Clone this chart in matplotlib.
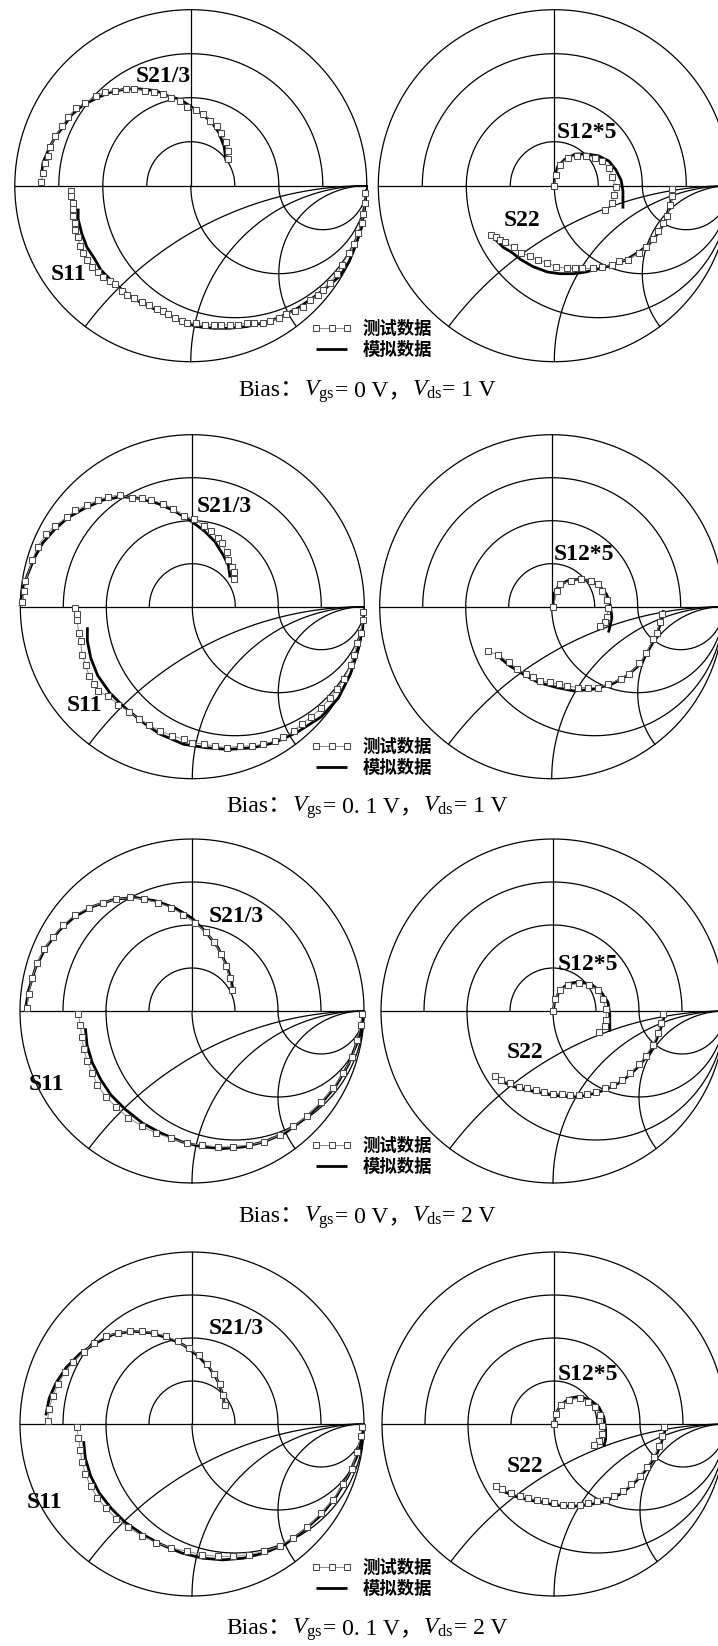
import numpy as np
import matplotlib
matplotlib.use('Agg')
import matplotlib.pyplot as plt
from matplotlib.font_manager import FontProperties
from matplotlib.offsetbox import TextArea, HPacker, AnchoredOffsetbox

W, H = 718, 1646

# ---- chart placement (pixels) ----
row_cy = [185.7, 606.7, 1011, 1424]
left_cx = [190.8, 192.3, 192, 192]
right_cx = [554.3, 551.7, 553, 554]
row_R = [176, 172, 172, 172]

vgs_vals = ['0', '0. 1', '0', '0. 1']
vds_vals = ['1', '1', '2', '2']
caption_y = [392, 808, 1218, 1630]
legend_labels = ['测试数据', '模拟数据']

# ---- data (reflection-plane coordinates, re/im) ----
# row 1 : Vgs=0, Vds=1
r1_s21_meas = [(-0.85, 0.02), (-0.84, 0.07), (-0.83, 0.13), (-0.81, 0.17), (-0.80, 0.22), (-0.77, 0.28),
               (-0.73, 0.34), (-0.70, 0.39), (-0.65, 0.44), (-0.60, 0.47), (-0.54, 0.51), (-0.49, 0.53),
               (-0.43, 0.54), (-0.37, 0.55), (-0.32, 0.55), (-0.26, 0.54), (-0.21, 0.53), (-0.16, 0.52),
               (-0.11, 0.50), (-0.06, 0.48), (-0.02, 0.45), (0.03, 0.43), (0.07, 0.41), (0.11, 0.37),
               (0.15, 0.34), (0.17, 0.30), (0.20, 0.25), (0.21, 0.20), (0.21, 0.15)]
r1_s21_sim = [(-0.85, 0.05), (-0.84, 0.13), (-0.81, 0.20), (-0.77, 0.28), (-0.72, 0.34), (-0.68, 0.40),
              (-0.61, 0.46), (-0.53, 0.50), (-0.46, 0.53), (-0.37, 0.55), (-0.29, 0.55), (-0.20, 0.54),
              (-0.13, 0.51), (-0.06, 0.49), (0.00, 0.45), (0.06, 0.41), (0.12, 0.36), (0.16, 0.30),
              (0.19, 0.22), (0.20, 0.14)]
r1_s11_meas = [(-0.68, -0.03), (-0.68, -0.06), (-0.67, -0.10), (-0.67, -0.13), (-0.67, -0.17), (-0.66, -0.21),
               (-0.66, -0.25), (-0.64, -0.29), (-0.63, -0.34), (-0.61, -0.38), (-0.59, -0.42), (-0.56, -0.46),
               (-0.53, -0.49), (-0.50, -0.52), (-0.46, -0.54), (-0.43, -0.56), (-0.39, -0.60), (-0.36, -0.62),
               (-0.32, -0.64), (-0.28, -0.66), (-0.24, -0.68), (-0.19, -0.70), (-0.16, -0.71), (-0.13, -0.73),
               (-0.09, -0.75), (-0.05, -0.77), (-0.02, -0.78), (0.03, -0.78), (0.08, -0.79), (0.13, -0.79),
               (0.17, -0.79), (0.22, -0.79), (0.27, -0.79), (0.32, -0.78), (0.36, -0.78), (0.41, -0.78),
               (0.45, -0.77), (0.50, -0.75), (0.54, -0.73), (0.59, -0.71), (0.64, -0.69), (0.68, -0.65),
               (0.72, -0.62), (0.75, -0.59), (0.79, -0.55), (0.83, -0.50), (0.86, -0.45), (0.90, -0.38),
               (0.93, -0.33), (0.95, -0.27), (0.97, -0.21), (0.98, -0.16), (0.99, -0.10), (0.99, -0.04)]
r1_s11_sim = [(-0.64, -0.13), (-0.64, -0.19), (-0.62, -0.27), (-0.59, -0.35), (-0.55, -0.41), (-0.51, -0.48),
              (-0.45, -0.54), (-0.38, -0.60), (-0.31, -0.65), (-0.23, -0.69), (-0.14, -0.73), (-0.05, -0.77),
              (0.03, -0.80), (0.13, -0.81), (0.22, -0.81), (0.32, -0.80), (0.41, -0.78), (0.50, -0.75),
              (0.60, -0.70), (0.69, -0.64), (0.77, -0.58), (0.85, -0.51), (0.90, -0.43), (0.93, -0.35),
              (0.97, -0.24), (0.98, -0.16), (0.995, -0.06), (0.998, -0.02)]
r1_s12_meas = [(0.00, 0.00), (0.01, 0.06), (0.03, 0.12), (0.08, 0.16), (0.13, 0.17), (0.18, 0.17),
               (0.23, 0.16), (0.27, 0.14), (0.31, 0.10), (0.33, 0.05), (0.35, -0.01), (0.34, -0.05),
               (0.33, -0.10), (0.29, -0.14)]
r1_s12_sim = [(0.00, -0.01), (0.00, 0.05), (0.02, 0.11), (0.06, 0.15), (0.12, 0.18), (0.18, 0.18),
              (0.25, 0.17), (0.31, 0.14), (0.35, 0.09), (0.38, 0.03), (0.39, -0.03), (0.39, -0.09),
              (0.39, -0.13)]
r1_s22_meas = [(-0.36, -0.28), (-0.33, -0.29), (-0.31, -0.31), (-0.28, -0.32), (-0.23, -0.35), (-0.19, -0.38),
               (-0.14, -0.40), (-0.09, -0.42), (-0.04, -0.44), (0.01, -0.46), (0.07, -0.47), (0.12, -0.47),
               (0.16, -0.47), (0.22, -0.47), (0.27, -0.46), (0.33, -0.45), (0.37, -0.43), (0.42, -0.42),
               (0.48, -0.38), (0.52, -0.35), (0.56, -0.30), (0.59, -0.26), (0.62, -0.21), (0.64, -0.17),
               (0.66, -0.11), (0.67, -0.06), (0.67, -0.02)]
r1_s22_sim = [(-0.33, -0.31), (-0.29, -0.35), (-0.24, -0.38), (-0.19, -0.42), (-0.12, -0.46), (-0.04, -0.49),
              (0.03, -0.50), (0.11, -0.50), (0.18, -0.49), (0.26, -0.47), (0.33, -0.45), (0.41, -0.42),
              (0.49, -0.37), (0.54, -0.33), (0.59, -0.27), (0.63, -0.20), (0.65, -0.13), (0.67, -0.06),
              (0.67, -0.01)]

# row 2 : Vgs=0.1, Vds=1
r2_s21_meas = [(-0.99, 0.03), (-0.98, 0.09), (-0.97, 0.15), (-0.93, 0.27), (-0.90, 0.35), (-0.85, 0.42),
               (-0.80, 0.47), (-0.73, 0.52), (-0.68, 0.56), (-0.61, 0.59), (-0.55, 0.62), (-0.49, 0.64),
               (-0.42, 0.65), (-0.35, 0.63), (-0.29, 0.63), (-0.24, 0.62), (-0.17, 0.60), (-0.11, 0.57),
               (-0.05, 0.53), (0.01, 0.51), (0.07, 0.47), (0.11, 0.44), (0.15, 0.40), (0.17, 0.37),
               (0.20, 0.32), (0.21, 0.27), (0.23, 0.23), (0.24, 0.20), (0.24, 0.16)]
r2_s21_sim = [(-0.99, 0.01), (-0.99, 0.09), (-0.96, 0.18), (-0.92, 0.28), (-0.87, 0.37), (-0.80, 0.45),
              (-0.72, 0.52), (-0.63, 0.57), (-0.52, 0.62), (-0.41, 0.64), (-0.31, 0.63), (-0.20, 0.60),
              (-0.11, 0.56), (-0.01, 0.50), (0.07, 0.44), (0.13, 0.38), (0.18, 0.30), (0.21, 0.24),
              (0.22, 0.17)]
r2_s11_meas = [(-0.68, -0.01), (-0.67, -0.04), (-0.67, -0.08), (-0.66, -0.15), (-0.65, -0.20), (-0.64, -0.28),
               (-0.62, -0.34), (-0.60, -0.40), (-0.57, -0.45), (-0.55, -0.49), (-0.49, -0.52), (-0.43, -0.57),
               (-0.37, -0.61), (-0.31, -0.65), (-0.25, -0.69), (-0.19, -0.72), (-0.12, -0.75), (-0.05, -0.77),
               (0.00, -0.79), (0.07, -0.80), (0.13, -0.81), (0.20, -0.82), (0.28, -0.81), (0.35, -0.81),
               (0.41, -0.80), (0.48, -0.78), (0.53, -0.76), (0.59, -0.72), (0.64, -0.68), (0.69, -0.64),
               (0.75, -0.59), (0.80, -0.53), (0.84, -0.48), (0.88, -0.42), (0.92, -0.34), (0.94, -0.28),
               (0.96, -0.21), (0.98, -0.15), (0.99, -0.08), (0.995, -0.03)]
r2_s11_sim = [(-0.61, -0.12), (-0.61, -0.20), (-0.59, -0.30), (-0.55, -0.40), (-0.48, -0.50), (-0.40, -0.58),
              (-0.29, -0.67), (-0.19, -0.74), (-0.05, -0.80), (0.08, -0.82), (0.21, -0.83), (0.35, -0.82),
              (0.48, -0.79), (0.61, -0.73), (0.75, -0.64), (0.85, -0.53), (0.92, -0.39), (0.96, -0.26),
              (0.99, -0.13), (0.998, -0.02)]
r2_s12_meas = [(0.01, 0.00), (0.03, 0.09), (0.05, 0.13), (0.11, 0.15), (0.17, 0.16), (0.23, 0.15),
               (0.27, 0.13), (0.29, 0.09), (0.32, 0.04), (0.33, -0.01), (0.32, -0.06), (0.31, -0.09),
               (0.28, -0.11)]
r2_s12_sim = [(0.01, -0.01), (0.01, 0.07), (0.04, 0.12), (0.09, 0.15), (0.16, 0.16), (0.23, 0.15),
              (0.28, 0.12), (0.32, 0.07), (0.34, 0.01), (0.35, -0.06), (0.34, -0.11), (0.33, -0.15)]
r2_s22_meas = [(-0.37, -0.26), (-0.31, -0.28), (-0.25, -0.32), (-0.20, -0.36), (-0.15, -0.39), (-0.11, -0.41),
               (-0.07, -0.43), (-0.01, -0.44), (0.04, -0.45), (0.09, -0.46), (0.15, -0.47), (0.21, -0.47),
               (0.27, -0.47), (0.33, -0.45), (0.40, -0.42), (0.45, -0.39), (0.51, -0.33), (0.55, -0.27),
               (0.59, -0.19), (0.61, -0.15), (0.63, -0.09), (0.64, -0.04)]
r2_s22_sim = [(-0.32, -0.28), (-0.25, -0.34), (-0.17, -0.39), (-0.08, -0.44), (0.03, -0.47), (0.13, -0.49),
              (0.24, -0.48), (0.35, -0.45), (0.44, -0.40), (0.52, -0.33), (0.57, -0.24), (0.61, -0.16),
              (0.64, -0.08), (0.65, -0.02)]

# row 3 : Vgs=0, Vds=2
r3_s21_meas = [(-0.96, 0.02), (-0.95, 0.10), (-0.93, 0.19), (-0.90, 0.28), (-0.86, 0.36), (-0.81, 0.43),
               (-0.75, 0.50), (-0.68, 0.56), (-0.60, 0.60), (-0.52, 0.63), (-0.44, 0.65), (-0.36, 0.66),
               (-0.28, 0.65), (-0.20, 0.63), (-0.12, 0.60), (-0.05, 0.56), (0.02, 0.51), (0.08, 0.46),
               (0.13, 0.40), (0.17, 0.33), (0.20, 0.26), (0.22, 0.19), (0.23, 0.12)]
r3_s21_sim = [(-0.97, 0.00), (-0.95, 0.12), (-0.91, 0.25), (-0.85, 0.37), (-0.77, 0.47), (-0.68, 0.55),
              (-0.57, 0.61), (-0.45, 0.65), (-0.33, 0.66), (-0.21, 0.64), (-0.10, 0.60), (0.00, 0.54),
              (0.08, 0.46), (0.15, 0.37), (0.20, 0.27), (0.23, 0.17), (0.24, 0.11)]
r3_s11_meas = [(-0.66, -0.02), (-0.65, -0.08), (-0.64, -0.15), (-0.63, -0.22), (-0.61, -0.29), (-0.58, -0.36),
               (-0.55, -0.43), (-0.50, -0.50), (-0.44, -0.56), (-0.37, -0.62), (-0.29, -0.67), (-0.21, -0.71),
               (-0.12, -0.74), (-0.03, -0.77), (0.06, -0.78), (0.15, -0.79), (0.24, -0.79), (0.33, -0.78),
               (0.42, -0.76), (0.51, -0.72), (0.59, -0.67), (0.67, -0.61), (0.75, -0.53), (0.82, -0.45),
               (0.88, -0.36), (0.93, -0.27), (0.96, -0.17), (0.98, -0.08), (0.99, -0.02)]
r3_s11_sim = [(-0.62, -0.10), (-0.61, -0.20), (-0.58, -0.30), (-0.53, -0.40), (-0.47, -0.49), (-0.39, -0.57),
              (-0.29, -0.65), (-0.18, -0.71), (-0.06, -0.76), (0.06, -0.79), (0.18, -0.80), (0.30, -0.79),
              (0.42, -0.76), (0.54, -0.71), (0.65, -0.63), (0.75, -0.54), (0.84, -0.43), (0.91, -0.31),
              (0.96, -0.18), (0.99, -0.06), (0.995, -0.01)]
r3_s12_meas = [(0.00, 0.00), (0.01, 0.07), (0.04, 0.12), (0.09, 0.15), (0.15, 0.16), (0.21, 0.15),
               (0.26, 0.12), (0.29, 0.07), (0.31, 0.01), (0.31, -0.05), (0.30, -0.09), (0.27, -0.12)]
r3_s12_sim = [(0.00, -0.01), (0.01, 0.06), (0.04, 0.12), (0.09, 0.16), (0.16, 0.17), (0.23, 0.15),
              (0.28, 0.11), (0.32, 0.05), (0.33, -0.02), (0.33, -0.08), (0.33, -0.12)]
r3_s22_meas = [(-0.34, -0.38), (-0.30, -0.40), (-0.25, -0.42), (-0.20, -0.44), (-0.15, -0.45), (-0.10, -0.46),
               (-0.05, -0.47), (0.00, -0.48), (0.05, -0.48), (0.10, -0.49), (0.15, -0.49), (0.20, -0.48),
               (0.25, -0.47), (0.30, -0.45), (0.35, -0.43), (0.40, -0.40), (0.45, -0.36), (0.50, -0.31),
               (0.54, -0.26), (0.58, -0.20), (0.61, -0.13), (0.63, -0.07), (0.64, -0.02)]
r3_s22_sim = [(-0.30, -0.41), (-0.20, -0.45), (-0.10, -0.47), (0.00, -0.49), (0.10, -0.50), (0.20, -0.49),
              (0.30, -0.46), (0.40, -0.41), (0.48, -0.34), (0.55, -0.26), (0.60, -0.17), (0.63, -0.09),
              (0.65, -0.02)]

# row 4 : Vgs=0.1, Vds=2
r4_s21_meas = [(-0.84, 0.02), (-0.83, 0.09), (-0.81, 0.16), (-0.78, 0.23), (-0.74, 0.30), (-0.69, 0.36),
               (-0.63, 0.42), (-0.57, 0.47), (-0.50, 0.51), (-0.43, 0.53), (-0.36, 0.54), (-0.29, 0.54),
               (-0.22, 0.53), (-0.15, 0.51), (-0.08, 0.48), (-0.02, 0.44), (0.04, 0.40), (0.09, 0.35),
               (0.13, 0.29), (0.16, 0.23), (0.18, 0.17), (0.19, 0.11)]
r4_s21_sim = [(-0.85, 0.05), (-0.83, 0.15), (-0.79, 0.24), (-0.73, 0.33), (-0.65, 0.41), (-0.56, 0.47),
              (-0.46, 0.52), (-0.35, 0.54), (-0.24, 0.53), (-0.14, 0.50), (-0.05, 0.46), (0.03, 0.40),
              (0.10, 0.33), (0.15, 0.25), (0.18, 0.17), (0.19, 0.10)]
r4_s11_meas = [(-0.67, -0.02), (-0.66, -0.08), (-0.65, -0.15), (-0.64, -0.22), (-0.62, -0.29), (-0.59, -0.36),
               (-0.55, -0.43), (-0.50, -0.49), (-0.44, -0.55), (-0.37, -0.60), (-0.29, -0.65), (-0.21, -0.69),
               (-0.12, -0.72), (-0.03, -0.74), (0.06, -0.76), (0.15, -0.77), (0.24, -0.77), (0.33, -0.76),
               (0.42, -0.74), (0.51, -0.71), (0.59, -0.66), (0.67, -0.60), (0.75, -0.52), (0.82, -0.44),
               (0.88, -0.35), (0.93, -0.26), (0.96, -0.16), (0.98, -0.07), (0.99, -0.02)]
r4_s11_sim = [(-0.63, -0.10), (-0.62, -0.20), (-0.59, -0.30), (-0.54, -0.40), (-0.47, -0.49), (-0.39, -0.57),
              (-0.29, -0.64), (-0.18, -0.70), (-0.06, -0.75), (0.06, -0.78), (0.18, -0.79), (0.30, -0.78),
              (0.42, -0.75), (0.54, -0.70), (0.65, -0.62), (0.75, -0.53), (0.84, -0.42), (0.91, -0.30),
              (0.96, -0.18), (0.99, -0.06), (0.995, -0.01)]
r4_s12_meas = [(0.00, 0.00), (0.01, 0.06), (0.04, 0.11), (0.09, 0.14), (0.15, 0.15), (0.20, 0.13),
               (0.24, 0.10), (0.27, 0.05), (0.28, -0.01), (0.28, -0.06), (0.26, -0.10), (0.23, -0.12)]
r4_s12_sim = [(0.00, -0.01), (0.01, 0.06), (0.04, 0.11), (0.09, 0.15), (0.15, 0.16), (0.21, 0.14),
              (0.26, 0.10), (0.29, 0.04), (0.30, -0.03), (0.30, -0.09), (0.29, -0.13)]
r4_s22_meas = [(-0.34, -0.36), (-0.30, -0.38), (-0.25, -0.40), (-0.20, -0.42), (-0.15, -0.43), (-0.10, -0.44),
               (-0.05, -0.45), (0.00, -0.46), (0.05, -0.47), (0.10, -0.47), (0.15, -0.47), (0.20, -0.46),
               (0.25, -0.45), (0.30, -0.44), (0.35, -0.42), (0.40, -0.39), (0.45, -0.35), (0.50, -0.30),
               (0.54, -0.25), (0.58, -0.19), (0.61, -0.13), (0.63, -0.07), (0.64, -0.02)]
r4_s22_sim = [(-0.30, -0.39), (-0.20, -0.43), (-0.10, -0.45), (0.00, -0.47), (0.10, -0.48), (0.20, -0.47),
              (0.30, -0.45), (0.40, -0.40), (0.48, -0.33), (0.55, -0.25), (0.60, -0.17), (0.63, -0.09),
              (0.65, -0.02)]

left_meas = [(r1_s21_meas, r1_s11_meas), (r2_s21_meas, r2_s11_meas),
             (r3_s21_meas, r3_s11_meas), (r4_s21_meas, r4_s11_meas)]
left_sim = [(r1_s21_sim, r1_s11_sim), (r2_s21_sim, r2_s11_sim),
            (r3_s21_sim, r3_s11_sim), (r4_s21_sim, r4_s11_sim)]
right_meas = [(r1_s12_meas, r1_s22_meas), (r2_s12_meas, r2_s22_meas),
              (r3_s12_meas, r3_s22_meas), (r4_s12_meas, r4_s22_meas)]
right_sim = [(r1_s12_sim, r1_s22_sim), (r2_s12_sim, r2_s22_sim),
             (r3_s12_sim, r3_s22_sim), (r4_s12_sim, r4_s22_sim)]

# label positions in pixels
s21_pos = [(163, 76), (224, 507), (236, 916), (236, 1328)]
s11_pos = [(68, 275), (85, 705), (47, 1084), (45, 1503)]
s12_pos = [(587, 132), (584, 555), (588, 964), (588, 1375)]
s22_pos = [(522, 220), None, (525, 1053), (525, 1466)]
legend_y = [311, 729, 1128, 1550]

plt.rcParams['mathtext.fontset'] = 'custom'
plt.rcParams['mathtext.rm'] = 'Liberation Serif'
plt.rcParams['mathtext.it'] = 'Liberation Serif:italic'

fig = plt.figure(figsize=(W / 100, H / 100), dpi=100)
fig.patch.set_facecolor('white')

LIM = 1.03


def make_ax(cx, cy, R):
    ax = fig.add_axes([(cx - R * LIM) / W, 1 - (cy + R * LIM) / H, 2 * R * LIM / W, 2 * R * LIM / H])
    ax.set_xlim(-LIM, LIM)
    ax.set_ylim(-LIM, LIM)
    ax.axis('off')
    return ax


def draw_grid(ax):
    kw = dict(color='black', lw=0.9)
    t = np.linspace(0, 2 * np.pi, 500)
    ax.plot(np.cos(t), np.sin(t), **kw)
    # polar magnitude circles, upper half
    th = np.linspace(0, np.pi, 300)
    for rr in (0.25, 0.5, 0.75):
        ax.plot(rr * np.cos(th), rr * np.sin(th), **kw)
    ax.plot([-1, 1], [0, 0], **kw)
    ax.plot([0, 0], [0, 1], **kw)
    # smith chart, lower half
    tb = np.linspace(np.pi, 2 * np.pi, 300)
    for r in (1 / 3, 1, 3):
        c, rad = r / (1 + r), 1 / (1 + r)
        ax.plot(c + rad * np.cos(tb), rad * np.sin(tb), **kw)
    for x in (-0.5, -1, -2):
        px, py = (x * x - 1) / (x * x + 1), 2 * x / (x * x + 1)
        yc = 1 / x
        a_end = np.arctan2(py - yc, px - 1)
        if a_end < 0:
            a_end += 2 * np.pi
        ta = np.linspace(np.pi / 2, a_end, 300)
        ax.plot(1 + abs(yc) * np.cos(ta), yc + abs(yc) * np.sin(ta), **kw)


def draw_sim(ax, pts):
    a = np.array(pts)
    return ax.plot(a[:, 0], a[:, 1], color='black', lw=2.0, solid_capstyle='butt', zorder=3)[0]


def draw_meas(ax, pts):
    a = np.array(pts)
    return ax.plot(a[:, 0], a[:, 1], color='#8a8a8a', lw=0.7, marker='s', ms=4.3,
                   mfc='white', mec='#4a4a4a', mew=0.75, zorder=4)[0]


def draw_caption(y, vgs, vds):
    tp = dict(family=['Liberation Serif', 'Noto Sans CJK SC'], size=17, color='black')
    parts = ['Bias：', r'$V_{\rm gs}$', '= %s V，' % vgs, r'$V_{\rm ds}$', '= %s V' % vds]
    boxes = [TextArea(p, textprops=tp) for p in parts]
    pack = HPacker(children=boxes, align='baseline', pad=0, sep=0)
    ab = AnchoredOffsetbox(loc='center', child=pack, frameon=False, pad=0, borderpad=0,
                           bbox_to_anchor=(367 / W, 1 - y / H), bbox_transform=fig.transFigure)
    fig.add_artist(ab)


lab_font = dict(family='Liberation Serif', weight='bold', size=17, ha='center', va='center')
leg_font = FontProperties(family='Noto Sans CJK SC', weight='bold', size=12.5)

for i in range(4):
    R = row_R[i]
    axl = make_ax(left_cx[i], row_cy[i], R)
    axr = make_ax(right_cx[i], row_cy[i], R)
    draw_grid(axl)
    draw_grid(axr)
    for pts in left_sim[i]:
        hs = draw_sim(axl, pts)
    for pts in left_meas[i]:
        hm = draw_meas(axl, pts)
    for pts in right_sim[i]:
        draw_sim(axr, pts)
    for pts in right_meas[i]:
        draw_meas(axr, pts)

    for txt, pos in (('S21/3', s21_pos[i]), ('S11', s11_pos[i]),
                     ('S12*5', s12_pos[i]), ('S22', s22_pos[i])):
        if pos is not None:
            fig.text(pos[0] / W, 1 - pos[1] / H, txt, **lab_font)

    fig.legend([hm, hs], legend_labels, loc='upper left',
               bbox_to_anchor=(302 / W, 1 - legend_y[i] / H), frameon=False,
               prop=leg_font, numpoints=3, handlelength=2.4, handletextpad=0.6,
               labelspacing=0.2, borderpad=0.0)

    draw_caption(caption_y[i], vgs_vals[i], vds_vals[i])

fig.savefig('out.png', dpi=100, facecolor='white')
